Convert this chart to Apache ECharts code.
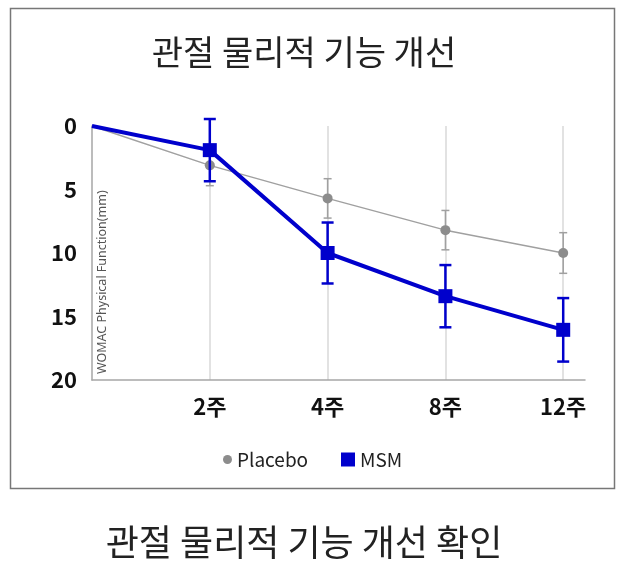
<!DOCTYPE html>
<html>
<head>
<meta charset="utf-8">
<script src="https://cdn.jsdelivr.net/npm/echarts@6/dist/echarts.min.js"></script>
<style>
html,body{margin:0;padding:0;background:#fff;}
#chart{width:623px;height:577px;}
</style>
</head>
<body>
<div id="chart"></div>
<script>
var weeks = ['0', '2주', '4주', '8주', '12주'];
var placebo = [0, 3.1, 5.7, 8.2, 10.0];
var placeboErr = [null, 1.6, 1.55, 1.55, 1.6];
var msm = [0, 1.9, 10.0, 13.4, 16.05];
var msmErr = [null, 2.45, 2.4, 2.45, 2.5];
var yTicks = [0, 5, 10, 15, 20];

var FONT = '"Noto Sans CJK KR", "Noto Sans", sans-serif';

function lineData(vals) {
  return vals.map(function (v, i) { return [i, v]; });
}
function errData(vals, errs) {
  var out = [];
  vals.forEach(function (v, i) {
    if (errs[i] != null) out.push([i, v - errs[i], v + errs[i]]);
  });
  return out;
}
function errRender(color, width, cap) {
  return function (params, api) {
    var x = api.value(0);
    var lo = api.coord([x, api.value(1)]);
    var hi = api.coord([x, api.value(2)]);
    var st = { stroke: color, lineWidth: width };
    return {
      type: 'group',
      children: [
        { type: 'line', shape: { x1: lo[0], y1: lo[1], x2: hi[0], y2: hi[1] }, style: st },
        { type: 'line', shape: { x1: lo[0] - cap, y1: lo[1], x2: lo[0] + cap, y2: lo[1] }, style: st },
        { type: 'line', shape: { x1: hi[0] - cap, y1: hi[1], x2: hi[0] + cap, y2: hi[1] }, style: st }
      ]
    };
  };
}

var chart = echarts.init(document.getElementById('chart'), null, { renderer: 'canvas' });
chart.setOption({
  backgroundColor: '#fff',
  animation: false,
  graphic: [
    { type: 'rect', shape: { x: 10.5, y: 8.5, width: 604, height: 480 },
      style: { fill: 'none', stroke: '#777', lineWidth: 1.5 }, silent: true },
    { type: 'text', x: 304, y: 52,
      style: { text: '관절 물리적 기능 개선', font: 'normal 34px ' + FONT, fill: '#222',
        textAlign: 'center', textVerticalAlign: 'middle' } },
    { type: 'text', x: 304, y: 542,
      style: { text: '관절 물리적 기능 개선 확인', font: 'normal 36px ' + FONT, fill: '#222',
        textAlign: 'center', textVerticalAlign: 'middle' } },
    { type: 'text', x: 102, y: 374, rotation: Math.PI / 2,
      style: { text: 'WOMAC Physical Function(mm)', font: 'normal 12.5px "Noto Sans", sans-serif', fill: '#555',
        textAlign: 'left', textVerticalAlign: 'middle' } }
  ],
  legend: [
    { data: ['Placebo'], icon: 'circle', itemWidth: 9, itemHeight: 9, left: 218, top: 445,
      textStyle: { fontFamily: FONT, fontSize: 19, color: '#222' } },
    { data: ['MSM'], icon: 'rect', itemWidth: 14, itemHeight: 14, left: 336, top: 445,
      textStyle: { fontFamily: FONT, fontSize: 19, color: '#222' } }
  ],
  grid: { left: 92, top: 126, right: 38, bottom: 197, containLabel: false },
  xAxis: {
    type: 'value', min: 0, max: 4.185, interval: 1,
    axisLine: { show: true, onZero: false, lineStyle: { color: '#a6a6a6', width: 1.5 } },
    axisTick: { show: false },
    splitLine: { show: true, showMinLine: false, showMaxLine: false, lineStyle: { color: '#d9d9d9', width: 1.5 } },
    axisLabel: {
      margin: 16, fontFamily: FONT, fontSize: 22, fontWeight: 'bold', color: '#111',
      formatter: function (v) { return (v > 0 && Number.isInteger(v)) ? weeks[v] : ''; }
    }
  },
  yAxis: {
    type: 'value', inverse: true, min: yTicks[0], max: yTicks[yTicks.length - 1], interval: 5,
    axisLine: { show: true, onZero: false, lineStyle: { color: '#a6a6a6', width: 1.5 } },
    axisTick: { show: false },
    splitLine: { show: false },
    axisLabel: { margin: 15, fontFamily: FONT, fontSize: 22, fontWeight: 'bold', color: '#111' }
  },
  series: [
    { name: 'PlaceboErr', type: 'custom', renderItem: errRender('#a0a0a0', 1.5, 4),
      data: errData(placebo, placeboErr), z: 2, silent: true },
    { name: 'Placebo', type: 'line', data: lineData(placebo), z: 3,
      symbol: 'circle',
      symbolSize: function (v, p) { return p.dataIndex === 0 ? 0 : 10; },
      lineStyle: { color: '#a0a0a0', width: 1.5 },
      itemStyle: { color: '#8c8c8c' } },
    { name: 'MSMErr', type: 'custom', renderItem: errRender('#0000cc', 2.5, 6),
      data: errData(msm, msmErr), z: 4, silent: true },
    { name: 'MSM', type: 'line', data: lineData(msm), z: 5,
      symbol: 'rect',
      symbolSize: function (v, p) { return p.dataIndex === 0 ? 0 : 14; },
      lineStyle: { color: '#0000cc', width: 4 },
      itemStyle: { color: '#0000cc' } }
  ]
});
</script>
</body>
</html>
